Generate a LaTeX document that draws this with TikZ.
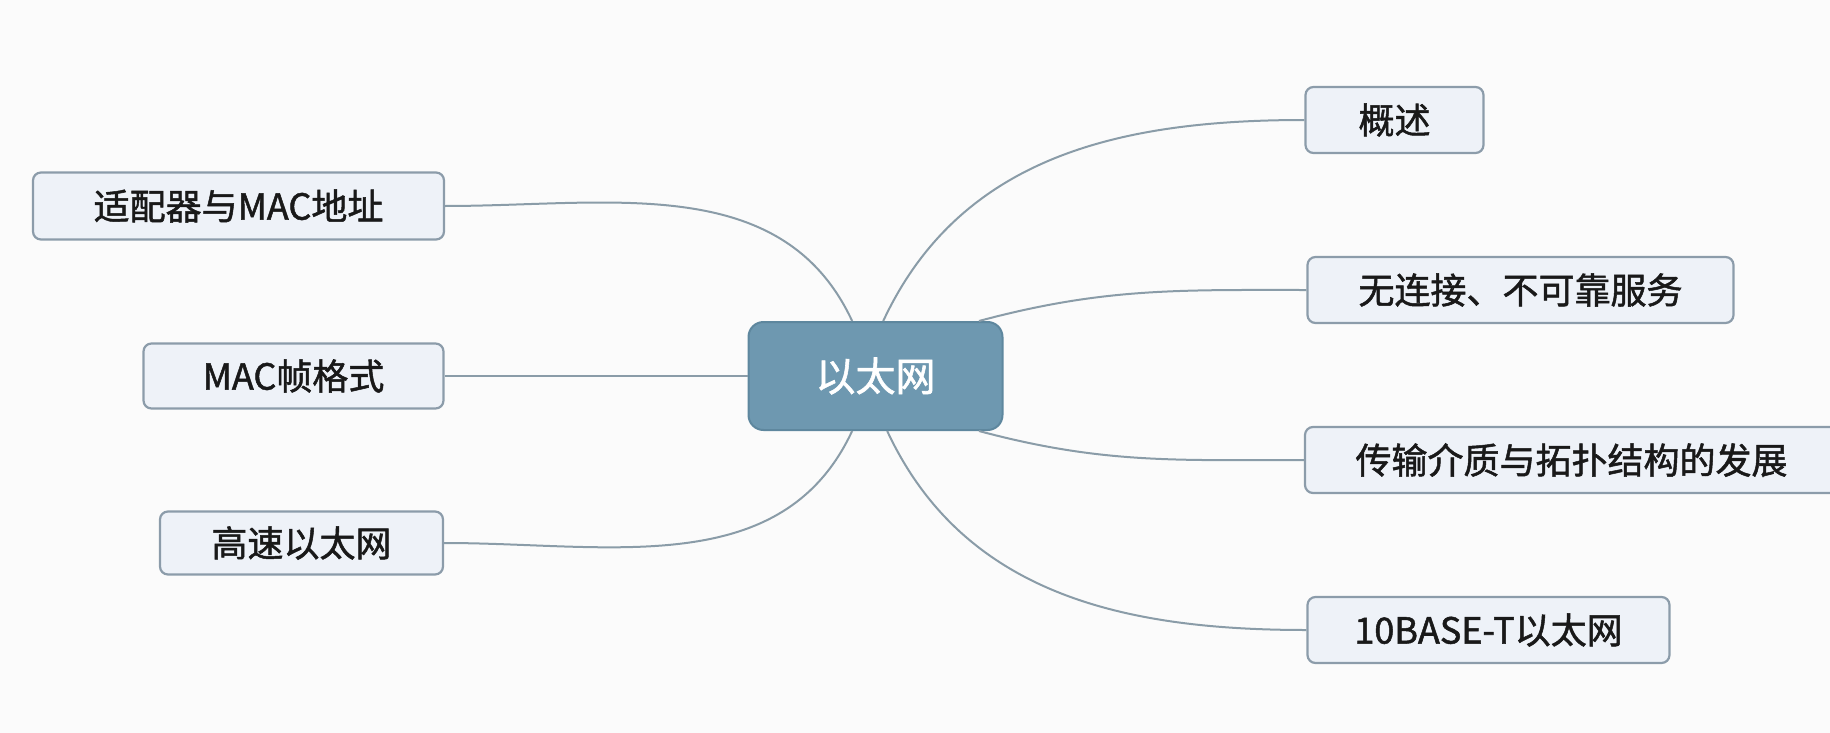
\documentclass[tikz,border=0pt]{standalone}
\usepackage{fontspec}
\setmainfont{Noto Sans CJK SC}
\newfontfamily\leaffont[FakeBold=1.4]{Noto Sans CJK SC}
\usetikzlibrary{positioning}
\definecolor{hubfill}{HTML}{6E98B0}
\definecolor{hubline}{HTML}{5E879E}
\definecolor{leaffill}{HTML}{EEF2F8}
\definecolor{leafline}{HTML}{8C9CAA}
\definecolor{linkgray}{HTML}{8A9CA8}
\definecolor{pagebg}{HTML}{FBFBFB}

\begin{document}
\begin{tikzpicture}[x=1pt,y=1pt,on grid,
	hub/.style={draw=hubline,fill=hubfill,line width=2pt,rounded corners=15pt,
		minimum width=254pt,minimum height=108pt,inner sep=0pt,text=white,
		font=\leaffont\fontsize{40}{44}\selectfont},
	leaf/.style={draw=leafline,fill=leaffill,line width=2.2pt,rounded corners=8pt,
		minimum height=66pt,inner sep=0pt,text=black!90,
		font=\leaffont\fontsize{36}{40}\selectfont},
	link/.style={draw=linkgray,line width=2pt}]
	\useasboundingbox[fill=pagebg] (0,0) rectangle (1830,-733);

	\node[hub] (e_0) at (875.5,-376) {以太网};
	\node[leaf,minimum width=178pt] (e_1) [above right=256pt and 519pt of e_0] {概述};
	\node[leaf,minimum width=426pt] (e_2) [above right=86pt and 645pt of e_0] {无连接、不可靠服务};
	\node[leaf,minimum width=533pt] (e_3) [below right=84pt and 696pt of e_0] {传输介质与拓扑结构的发展};
	\node[leaf,minimum width=362pt] (e_4) [below right=254pt and 613pt of e_0] {10BASE-T以太网};
	\node[leaf,minimum width=411pt,minimum height=67pt] (e_5) [above left=170pt and 637pt of e_0] {适配器与MAC地址};
	\node[leaf,minimum width=300pt,minimum height=65pt] (e_6) [left=582pt of e_0] {MAC帧格式};
	\node[leaf,minimum width=283pt,minimum height=63pt] (e_7) [below left=167pt and 574pt of e_0] {高速以太网};

	\path[link]
	(e_0.82) edge [out=65,in=180] (e_1.west)
	(e_0.28) edge [out=15,in=180] (e_2.west)
	(e_0.-28) edge [out=-15,in=180] (e_3.west)
	(e_0.-78) edge [out=-65,in=180] (e_4.west)

	(e_0.113) edge [out=115,in=0] (e_5.east)
	(e_0.west) edge (e_6.east)
	(e_0.-113) edge [out=-115,in=0] (e_7.east);

\end{tikzpicture}
\end{document}
